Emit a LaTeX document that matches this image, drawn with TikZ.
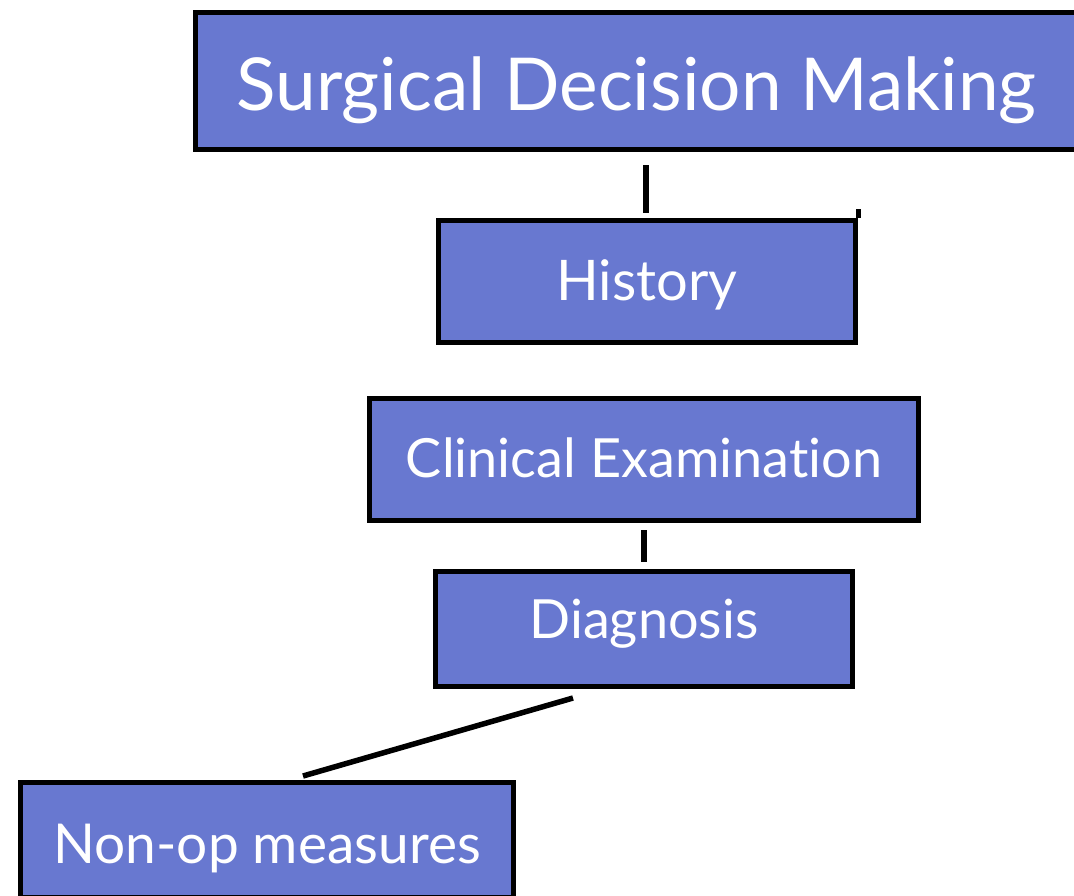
\documentclass[tikz,border=0pt]{standalone}
\usepackage{fontspec}
\setmainfont{Lato}[Ligatures={NoCommon}]
\usetikzlibrary{calc}
\definecolor{boxblue}{RGB}{104,120,208}
\begin{document}
\begin{tikzpicture}[x=1pt,y=-1pt,
  box/.style={draw=black,line width=5pt,fill=boxblue,text=white,inner sep=0pt,anchor=center,text depth=0pt},
  conn/.style={draw=black,line width=5.5pt}]
\useasboundingbox (0,0) rectangle (1074,895);
\clip (0,0) rectangle (1074,895);
\fill[white] (0,0) rectangle (1074,895);
\node[box,minimum width=882pt,minimum height=137pt,text height=58pt,font=\fontsize{73}{78}\selectfont] (top) at (636.5,81) {Surgical Decision Making};
\node[box,minimum width=417pt,minimum height=122pt,text height=37pt,font=\fontsize{56}{60}\selectfont] (hist) at (647,281.5) {History};
\node[box,minimum width=549pt,minimum height=122pt,text height=35pt,font=\fontsize{54}{58}\selectfont] (clin) at (644,459.5) {Clinical Examination};
\node[box,minimum width=417pt,minimum height=115pt,text height=18pt,font=\fontsize{54}{58}\selectfont] (diag) at (644,629) {Diagnosis};
\node[box,minimum width=493pt,minimum height=115pt,text height=46pt,font=\fontsize{55}{58}\selectfont] (nonop) at (267,840) {Non-op measures};
\coordinate (a1) at (646,165);
\coordinate (a2) at (646,213);
\draw[conn] (a1) -- (a2);
\draw[line width=5pt] (hist.north east) -- ++(0,-9);
\coordinate (b1) at (644,530);
\coordinate (b2) at (644,562);
\draw[conn] (b1) -- (b2);
\coordinate (c1) at (573,698);
\coordinate (c2) at (303,776);
\draw[conn] (c1) -- (c2);
\end{tikzpicture}
\end{document}
